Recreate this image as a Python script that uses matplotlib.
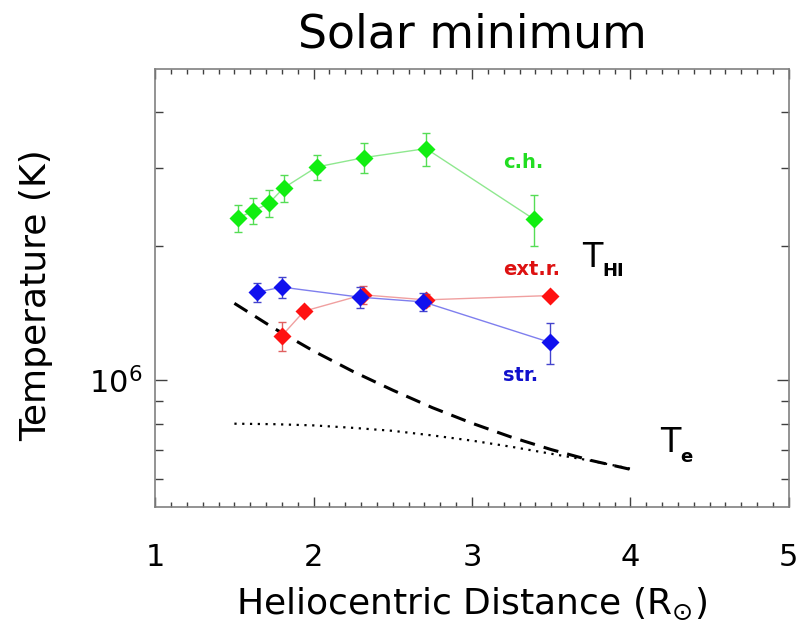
import matplotlib
matplotlib.use("Agg")
import matplotlib.pyplot as plt

# coronal hole (c.h.)
ch_r = [1.52, 1.62, 1.72, 1.81, 2.02, 2.32, 2.71, 3.39]
ch_t = [2.31e6, 2.40e6, 2.50e6, 2.70e6, 3.01e6, 3.16e6, 3.31e6, 2.30e6]
ch_err = [0.16e6, 0.16e6, 0.17e6, 0.19e6, 0.20e6, 0.24e6, 0.28e6, 0.30e6]

# extended region (ext.r.)
ext_r = [1.80, 1.94, 2.31, 2.71, 3.49]
ext_t = [1.26e6, 1.43e6, 1.556e6, 1.516e6, 1.55e6]
ext_err = [0.095e6, 0.03e6, 0.07e6, 0.05e6, 0.02e6]

# streamer (str.)
str_r = [1.645, 1.80, 2.293, 2.693, 3.49]
str_t = [1.578e6, 1.619e6, 1.537e6, 1.50e6, 1.218e6]
str_err = [0.08e6, 0.085e6, 0.08e6, 0.07e6, 0.13e6]

# electron temperature curves
te_r = [1.5, 1.75, 2.0, 2.25, 2.5, 2.75, 3.0, 3.25, 3.5, 3.75, 4.0]
te_dash_t = [1.489e6, 1.309e6, 1.164e6, 1.047e6, 9.51e5, 8.69e5, 8.02e5, 7.46e5, 7.00e5, 6.62e5, 6.32e5]
te_dot_t = [8.0e5, 7.98e5, 7.93e5, 7.83e5, 7.71e5, 7.53e5, 7.33e5, 7.10e5, 6.85e5, 6.61e5, 6.34e5]

x_ticks = [1, 2, 3, 4, 5]
y_ticks = [1e6]
y_ticklabels = [r'$10^{6}$']
y_minor = [6e5, 7e5, 8e5, 9e5, 2e6, 3e6, 4e6]

fig = plt.figure(figsize=(8, 6.3), dpi=100)
ax = fig.add_axes([0.194, 0.195, 0.792, 0.696])
ax.set_yscale('log')

ax.plot(ch_r, ch_t, color='#8fe88f', lw=1, zorder=2)
ax.errorbar(ch_r, ch_t, yerr=ch_err, fmt='none', ecolor='#55dd55', elinewidth=1, capsize=3, zorder=3)
ax.plot(ch_r, ch_t, 'D', color='#11ee11', ms=9.5, mec='none', zorder=4)

ax.plot(ext_r, ext_t, color='#f0a0a0', lw=1, zorder=2)
ax.errorbar(ext_r, ext_t, yerr=ext_err, fmt='none', ecolor='#e06060', elinewidth=1, capsize=3, zorder=3)
ax.plot(ext_r, ext_t, 'D', color='#ff1111', ms=9.5, mec='none', zorder=4)

ax.plot(str_r, str_t, color='#7f7fee', lw=1, zorder=5)
ax.errorbar(str_r, str_t, yerr=str_err, fmt='none', ecolor='#4444cc', elinewidth=1, capsize=3, zorder=6)
ax.plot(str_r, str_t, 'D', color='#1111ee', ms=9.5, mec='none', zorder=7)

ax.plot(te_r, te_dash_t, color='black', lw=2.2, linestyle=(0, (5, 3)), zorder=3)
ax.plot(te_r, te_dot_t, color='black', lw=1.6, linestyle=(0, (1, 2.5)), zorder=3)

# curve labels
ax.text(3.196, 3.08e6, 'c.h.', color='#22dd22', fontsize=14, fontweight='bold', va='center')
ax.text(3.196, 1.77e6, 'ext.r.', color='#dd1111', fontsize=14, fontweight='bold', va='center')
ax.text(3.196, 1.026e6, 'str.', color='#1111cc', fontsize=14, fontweight='bold', va='center')
ax.text(3.694, 1.80e6, 'T', fontsize=24, va='baseline')
ax.text(3.82, 1.711e6, 'HI', fontsize=13, fontweight='bold', va='baseline')
ax.text(4.186, 6.90e5, 'T', fontsize=24, va='baseline')
ax.text(4.315, 6.55e5, 'e', fontsize=13, fontweight='bold', va='baseline')

ax.set_xlim(1, 5)
ax.set_ylim(5.2e5, 5e6)
ax.set_xticks(x_ticks)
ax.set_xticks([1 + i * 0.1 for i in range(41)], minor=True)
ax.set_yticks(y_ticks)
ax.set_yticklabels(y_ticklabels)
ax.set_yticks(y_minor, minor=True)
ax.set_yticklabels([''] * len(y_minor), minor=True)

ax.tick_params(which='both', direction='in', top=True, right=True, color='0.25', width=1)
ax.tick_params(axis='x', which='major', length=7, labelsize=22, pad=26)
ax.tick_params(axis='x', which='minor', length=3.6)
ax.tick_params(axis='y', which='major', length=8.6, labelsize=22, pad=9)
ax.tick_params(axis='y', which='minor', length=5.8)
for s in ax.spines.values():
    s.set_color('0.5')
    s.set_linewidth(1.2)

ax.set_xlabel(r'Heliocentric Distance (R$_{\odot}$)', fontsize=26)
ax.xaxis.set_label_coords(0.5, -0.18)
ax.set_ylabel('Temperature (K)', fontsize=26)
ax.yaxis.set_label_coords(-0.161, 0.483)
ax.set_title('Solar minimum', fontsize=33, pad=15)

fig.savefig('out.png', dpi=100)
